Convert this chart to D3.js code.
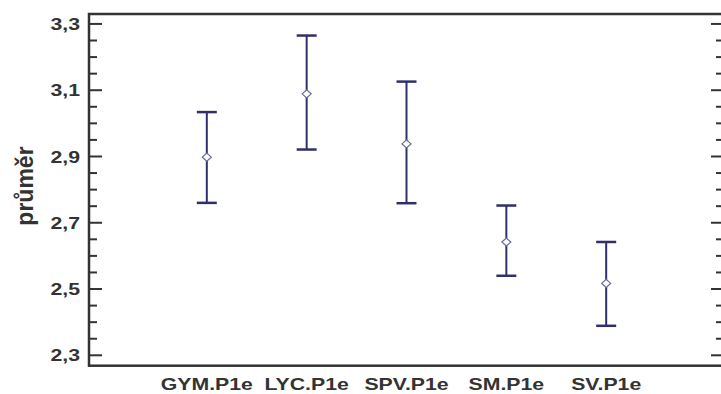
<!DOCTYPE html>
<html lang="cs">
<head>
<meta charset="UTF-8">
<title>průměr</title>
<script src="https://cdn.jsdelivr.net/npm/d3@7"></script>
<style>
    body { margin: 0; background: #fff; }
    svg text { font-family: "Liberation Sans", Arial, sans-serif; font-weight: bold; fill: #333; }
</style>
</head>
<body>
<div id="chart"></div>
<script>
    var categories = ["GYM.P1e", "LYC.P1e", "SPV.P1e", "SM.P1e", "SV.P1e"];
    var means = [2.898, 3.089, 2.938, 2.642, 2.517];
    var lower = [2.760, 2.921, 2.759, 2.540, 2.389];
    var upper = [3.034, 3.265, 3.126, 2.752, 2.642];
    var yTicks = [2.3, 2.5, 2.7, 2.9, 3.1, 3.3];

    var width = 721, height = 394;
    var plotLeft = 89, plotRight = 724, plotTop = 14, plotBottom = 365.7;
    var stretch = 1.25;
    var barColor = "#2f2f6c";

    var svg = d3.select("#chart").append("svg")
        .attr("width", width)
        .attr("height", height);

    var x = d3.scalePoint()
        .domain(categories)
        .range([plotLeft, plotRight])
        .padding(1.18);

    var y = d3.scaleLinear()
        .domain([2.2686, 3.330])
        .range([plotBottom, plotTop]);

    var minorTicks = d3.range(2.3, 3.3001, 0.05).filter(function(v) {
        return yTicks.every(function(t) { return Math.abs(t - v) > 0.001; });
    });

    // ticks, inward on both sides
    var tickG = svg.append("g").attr("stroke", "#333").attr("stroke-width", 2);
    [[plotLeft, 1], [plotRight, -1]].forEach(function(side) {
        tickG.selectAll(null).data(yTicks).enter().append("line")
            .attr("x1", side[0]).attr("x2", side[0] + side[1] * 13)
            .attr("y1", function(d) { return y(d); })
            .attr("y2", function(d) { return y(d); });
        tickG.selectAll(null).data(minorTicks).enter().append("line")
            .attr("x1", side[0]).attr("x2", side[0] + side[1] * 8)
            .attr("y1", function(d) { return y(d); })
            .attr("y2", function(d) { return y(d); });
    });

    // frame
    svg.append("rect")
        .attr("x", plotLeft).attr("y", plotTop)
        .attr("width", plotRight - plotLeft).attr("height", plotBottom - plotTop)
        .attr("fill", "none").attr("stroke", "#333").attr("stroke-width", 2.5);

    // y tick labels
    svg.append("g").selectAll("text").data(yTicks).enter().append("text")
        .attr("transform", function(d) { return "translate(80," + y(d) + ") scale(" + stretch + ",1)"; })
        .attr("text-anchor", "end")
        .attr("dy", "0.36em")
        .attr("font-size", "17px")
        .text(function(d) { return d3.format(".1f")(d).replace(".", ","); });

    // x labels
    svg.append("g").selectAll("text").data(categories).enter().append("text")
        .attr("transform", function(d) { return "translate(" + x(d) + ",390) scale(" + stretch + ",1)"; })
        .attr("text-anchor", "middle")
        .attr("font-size", "17px")
        .text(function(d) { return d; });

    // axis title
    svg.append("text")
        .attr("transform", "translate(33,186) rotate(-90)")
        .attr("text-anchor", "middle")
        .attr("font-size", "23px")
        .text("průměr");

    // error bars
    var bars = svg.append("g").selectAll("g").data(categories).enter().append("g")
        .attr("stroke", barColor).attr("fill", "none");
    bars.append("line")
        .attr("x1", function(d) { return x(d); })
        .attr("x2", function(d) { return x(d); })
        .attr("y1", function(d, i) { return y(upper[i]); })
        .attr("y2", function(d, i) { return y(lower[i]); })
        .attr("stroke-width", 2);
    [upper, lower].forEach(function(arr) {
        bars.append("line")
            .attr("x1", function(d) { return x(d) - 10; })
            .attr("x2", function(d) { return x(d) + 10; })
            .attr("y1", function(d, i) { return y(arr[i]); })
            .attr("y2", function(d, i) { return y(arr[i]); })
            .attr("stroke-width", 2.5);
    });
    bars.append("path")
        .attr("d", function(d, i) {
            var cx = x(d), cy = y(means[i]);
            return "M" + (cx - 4.5) + "," + cy + "L" + cx + "," + (cy - 4) +
                   "L" + (cx + 4.5) + "," + cy + "L" + cx + "," + (cy + 4) + "Z";
        })
        .attr("fill", "#fff")
        .attr("stroke", "#6a6a98")
        .attr("stroke-width", 1.2);
</script>
</body>
</html>
